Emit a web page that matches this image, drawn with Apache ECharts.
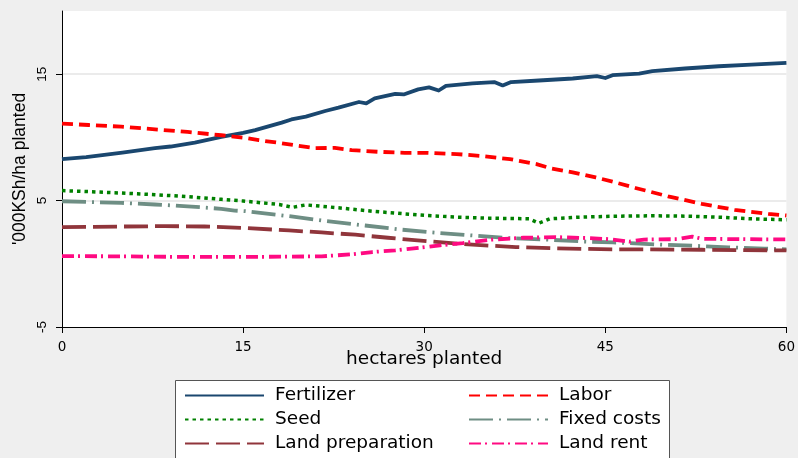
<!DOCTYPE html>
<html>
<head>
<meta charset="utf-8">
<style>
  html, body { margin: 0; padding: 0; background: #efefef; }
  #chart { width: 798px; height: 458px; }
</style>
<script src="https://cdn.jsdelivr.net/npm/echarts@6/dist/echarts.min.js"></script>
</head>
<body>
<div id="chart"></div>
<script>
// Cost components, '000 KSh per hectare, against hectares planted: [hectares, value]
const fertilizer = [[0,8.28],[2,8.44],[5,8.8],[7.7,9.15],[9,9.28],[11,9.59],[13.2,10.04],[15,10.35],[16,10.57],[18.2,11.17],[19,11.42],[20.2,11.64],[21.8,12.09],[22.9,12.35],[24.6,12.8],[25.2,12.69],[25.9,13.09],[27.6,13.45],[28.3,13.4],[29.5,13.8],[30.4,13.96],[31.2,13.71],[31.8,14.08],[34,14.27],[35.8,14.38],[36.5,14.11],[37.2,14.38],[39.5,14.5],[42.3,14.66],[44.3,14.84],[45,14.7],[45.6,14.92],[47.8,15.05],[48.9,15.24],[51.6,15.45],[54.4,15.63],[57.1,15.76],[60,15.89]];
const labor = [[0,11.09],[2.2,10.98],[4.9,10.85],[7.7,10.64],[10.4,10.43],[13.2,10.17],[15,9.98],[16.3,9.78],[18.2,9.54],[19.6,9.33],[21,9.15],[22.6,9.17],[24,8.99],[26.2,8.86],[28.4,8.78],[30.3,8.78],[32.7,8.68],[34.6,8.54],[37.1,8.28],[39.3,7.89],[40.4,7.57],[42.3,7.23],[44.2,6.83],[45.6,6.5],[47.5,6.0],[50.2,5.34],[53,4.74],[55.7,4.27],[58.5,3.95],[60,3.82]];
const seed = [[0,5.79],[2.2,5.71],[4.9,5.6],[7.7,5.47],[10.4,5.31],[13.2,5.1],[15,4.97],[18,4.69],[19.1,4.47],[20.2,4.66],[22.9,4.43],[25.7,4.16],[28.4,3.95],[30.3,3.82],[32.7,3.69],[35.4,3.61],[38.7,3.56],[39.5,3.21],[40.4,3.56],[42.8,3.69],[45.6,3.76],[48.9,3.8],[51.6,3.77],[54.4,3.69],[57.1,3.56],[60,3.48]];
const fixedCosts = [[0,4.95],[4.9,4.82],[7.7,4.69],[10.4,4.55],[13.2,4.35],[14.3,4.21],[15.2,4.16],[18.8,3.77],[21.5,3.43],[25.1,3.03],[27.9,2.72],[30.4,2.5],[34,2.24],[37.1,2.03],[40.4,1.9],[43.1,1.77],[45.6,1.69],[49.1,1.54],[52.2,1.43],[55.2,1.3],[58.2,1.2],[60,1.14]];
const landPreparation = [[0,2.9],[4.9,2.95],[8.5,2.98],[11.8,2.95],[15,2.84],[18.8,2.64],[21.5,2.48],[24.3,2.3],[27,2.06],[30.3,1.78],[34,1.51],[37.6,1.32],[40.9,1.22],[45.6,1.14],[47.5,1.14],[53,1.11],[60,1.06]];
const landRent = [[0,0.61],[4.9,0.59],[10.4,0.54],[15,0.54],[21.5,0.59],[24,0.75],[25.7,0.93],[27.6,1.06],[30.1,1.32],[31.3,1.46],[33.2,1.64],[35.4,1.9],[38.2,2.06],[40.9,2.11],[43.7,2.03],[45.3,1.95],[47,1.75],[48.2,1.92],[51,1.95],[52.2,2.15],[53,1.98],[56,1.95],[60,1.93]];

const seriesNames = ['Fertilizer', 'Labor', 'Seed', 'Fixed costs', 'Land preparation', 'Land rent'];
// legend grid: two columns of three rows, filled row by row
const legendColumns = [184, 468];
const legendRows = [386, 410, 434];
const xTicks = { min: 0, max: 60, step: 15 };
const yTicks = { min: -5, max: 20, step: 10 };

const chart = echarts.init(document.getElementById('chart'), null, { renderer: 'canvas' });

function lineSeries(name, data, color, dash, width) {
  return {
    name: name,
    type: 'line',
    data: data,
    symbol: 'none',
    smooth: false,
    lineStyle: { color: color, width: width, type: dash, cap: 'butt', join: 'round' },
    itemStyle: { color: color },
    emphasis: { disabled: true },
    animation: false
  };
}

// one legend entry per slot so every entry sits in its own cell
const legends = seriesNames.map(function (name, i) {
  return {
    orient: 'horizontal',
    left: legendColumns[i % 2],
    top: legendRows[Math.floor(i / 2)],
    itemWidth: 79,
    itemHeight: 14,
    selectedMode: false,
    itemStyle: { opacity: 0 },
    padding: 0,
    textStyle: { fontFamily: 'DejaVu Sans', fontSize: 18.5, lineHeight: 18, color: '#000', padding: [0, 0, 0, 6] },
    data: [name]
  };
});

const option = {
  backgroundColor: '#efefef',
  animation: false,
  grid: { left: 62, right: 8, top: 11, bottom: 131, show: true, backgroundColor: '#ffffff', borderWidth: 0 },
  graphic: [{
    type: 'rect',
    left: 175, top: 380, z: -1,
    shape: { width: 494, height: 100 },
    style: { fill: '#ffffff', stroke: '#555555', lineWidth: 1 }
  }],
  legend: legends,
  xAxis: {
    type: 'value',
    min: xTicks.min, max: xTicks.max, interval: xTicks.step,
    name: 'hectares planted',
    nameLocation: 'middle',
    nameGap: 23,
    nameMoveOverlap: false,
    nameTextStyle: { fontFamily: 'DejaVu Sans', fontSize: 18.5, color: '#000' },
    axisLine: { show: true, onZero: false, lineStyle: { color: '#000', width: 1 } },
    axisTick: { show: true, length: 6, lineStyle: { color: '#000' } },
    axisLabel: { fontFamily: 'DejaVu Sans', fontSize: 13.5, color: '#000', margin: 13 },
    splitLine: { show: false }
  },
  yAxis: {
    type: 'value',
    min: yTicks.min, max: yTicks.max, interval: yTicks.step,
    name: "'000KSh/ha planted",
    nameLocation: 'middle',
    nameRotate: 90,
    nameGap: 33,
    nameMoveOverlap: false,
    nameTextStyle: { fontFamily: 'Liberation Sans', fontSize: 17.5, color: '#000' },
    axisLine: { show: true, onZero: false, lineStyle: { color: '#000', width: 1 } },
    axisTick: { show: true, length: 6, lineStyle: { color: '#000' } },
    axisLabel: { rotate: 90, fontFamily: 'Liberation Sans', fontSize: 13.5, color: '#000', margin: 13, showMaxLabel: false },
    splitLine: { show: true, showMinLine: false, showMaxLine: false, lineStyle: { color: '#e4e4e4', width: 1.5 } }
  },
  series: [
    lineSeries(seriesNames[0], fertilizer, '#1a476f', 'solid', 3.8),
    lineSeries(seriesNames[1], labor, '#ff0000', [11, 6], 3.8),
    lineSeries(seriesNames[2], seed, '#008000', [3.5, 4], 3.5),
    lineSeries(seriesNames[3], fixedCosts, '#6e8e84', [24, 6, 2, 6], 3.8),
    lineSeries(seriesNames[4], landPreparation, '#90353b', [24, 7], 3.8),
    lineSeries(seriesNames[5], landRent, '#ff0a82', [12, 4, 2, 5], 3.8)
  ]
};

chart.setOption(option);
</script>
</body>
</html>
